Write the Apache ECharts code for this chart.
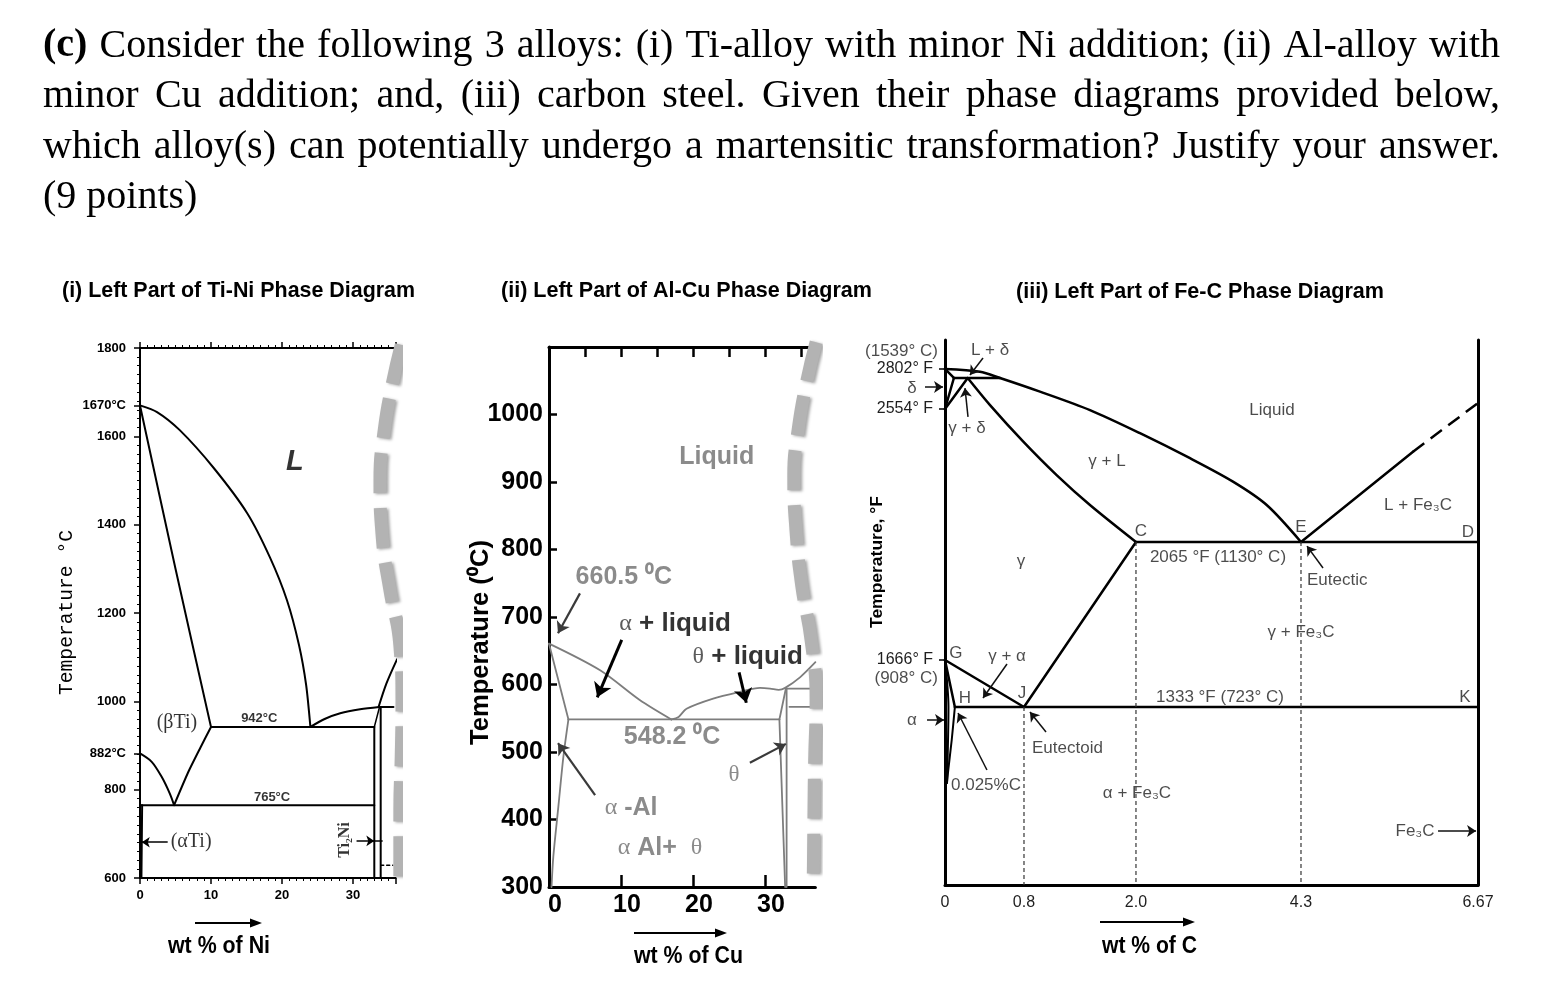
<!DOCTYPE html>
<html>
<head>
<meta charset="utf-8">
<title>Phase diagrams</title>
<script src="https://cdn.jsdelivr.net/npm/echarts@6.0.0/dist/echarts.min.js"></script>
<style>
    html, body { margin: 0; background: #fff; }
    #chart { width: 1547px; height: 995px; }
</style>
</head>
<body>
<div id="chart"></div>
<script>
'use strict';

// ---------- text ----------
const questionLines = [
    '(c) Consider the following 3 alloys: (i) Ti-alloy with minor Ni addition; (ii) Al-alloy with',
    'minor Cu addition; and, (iii) carbon steel. Given their phase diagrams provided below,',
    'which alloy(s) can potentially undergo a martensitic transformation? Justify your answer.',
    '(9 points)'
];
const panelTitles = ['(i) Left Part of Ti-Ni Phase Diagram', '(ii) Left Part of Al-Cu Phase Diagram', '(iii) Left Part of Fe-C Phase Diagram'];
const compositionTitles = ['wt % of Ni', 'wt % of Cu', 'wt % of C'];
const temperatureTitles = ['Temperature °C', 'Temperature (⁰C)', 'Temperature, °F'];

// ---------- (i) Ti-Ni : wt% Ni, °C ----------
const tiNiTempLabels = [600, 800, 882, 1000, 1200, 1400, 1600, 1670, 1800];
const tiNiLiquidus = [[0, 1670], [2.4, 1655], [5.6, 1614], [10.3, 1530], [15.1, 1426], [18.3, 1326], [20.7, 1229], [22.4, 1127], [23.4, 1037], [24, 942]];
const tiNiSolidus = [[0, 1670], [5, 1300], [10, 942]];
const tiNiBetaTransus = [[0, 882], [1.65, 863], [3.05, 829], [4.2, 791], [4.8, 765]];
const tiNiBetaSolvus = [[4.8, 765], [6.8, 840], [8.5, 895], [10, 942]];
const tiNiAlphaSolvus = [[0.3, 765], [0.2, 600]];
const tiNiEutectic = [[10, 942], [33, 942]];
const tiNiEutectoid = [[0, 765], [33, 765]];
const tiNiTi2NiLeft = [[33, 942], [33, 600]];
const tiNiTi2NiRight = [[33.9, 987], [33.9, 600]];
const tiNiPeritecticEdge = [[33, 942], [33.7, 985]];
const tiNiTi2NiLiquidus = [[24, 942], [26, 960], [28.2, 973], [31, 982], [33.7, 987]];
const tiNiPeritectic = [[33.7, 987], [35.7, 987]];
const tiNiRightLiquidus = [[33.6, 987], [34.7, 1040], [36.2, 1095]];
const tiNiLowLine = [[33.9, 629], [35.6, 629]];
const tiNiBreak = [[36.8, 1807], [35.5, 1716], [34.4, 1614], [33.8, 1501], [34.1, 1376], [35.2, 1252], [36.6, 1127], [36.9, 1003], [36.8, 878], [36.6, 754], [36.6, 600]];
const tiNiArrows = [[[3.9, 681], [0.25, 681]], [[30.5, 684], [33.0, 684]]];
const tiNiTick = [[33.0, 684], [34.1, 684]];
const tiNiNotes = [
    [21.8, 1542, 'L', 'big'],
    [5.2, 951, '(βTi)', 'serif'],
    [16.8, 962, '942°C', 'small'],
    [18.6, 783, '765°C', 'small'],
    [7.2, 681, '(αTi)', 'serif'],
    [28.9, 686, 'Ti₂Ni', 'rot']
];

// ---------- (ii) Al-Cu : wt% Cu, °C ----------
const alCuLiquidusAl = [[0, 660.5], [7.1, 621], [12.6, 577], [17, 548.2]];
const alCuLiquidusTheta = [[17, 548.2], [18, 552], [19.1, 564], [22.8, 579], [26.5, 589], [29.3, 595], [30.7, 594], [31.9, 592], [32.8, 595], [34.9, 611], [37, 633]];
const alCuSolidus = [[0, 660.5], [2.7, 548.2]];
const alCuSolvus = [[2.7, 548.2], [2.0, 493], [1.3, 419], [0.6, 345], [0.35, 300]];
const alCuEutectic = [[2.7, 548.2], [32, 548.2]];
const alCuThetaLeft = [[32, 548.2], [32.8, 300]];
const alCuThetaTop = [[32, 548.2], [32.9, 594]];
const alCuThetaRight = [[33.0, 594], [33.0, 300]];
const alCuUpperLine = [[33.0, 594], [37, 594]];
const alCuLowerLine = [[33.4, 567], [37, 567]];
const alCuBreak = [[37.1, 1107], [35.7, 1044], [34.6, 977], [34.0, 910], [34.3, 829], [35.1, 747], [36.4, 666], [37.1, 577], [36.9, 488], [36.8, 407], [36.7, 300]];
const alCuBoldArrows = [[[10.1, 666], [6.7, 581]], [[26.4, 618], [27.4, 573]]];
const alCuGrayArrows = [[[4.3, 735], [1.25, 676]], [[27.9, 484], [32.9, 512]], [[6.4, 436], [1.25, 513]]];
const alCuNotes = [
    [23.3, 937, 'Liquid', 'gray'],
    [10.4, 759, '660.5 ⁰C', 'gray'],
    [17.5, 690, '{s|α} + liquid', 'black'],
    [27.6, 641, '{s|θ} + liquid', 'black'],
    [17.1, 522, '548.2 ⁰C', 'gray'],
    [25.7, 466, 'θ', 'graySerif'],
    [11.4, 417, '{s|α} -Al', 'gray'],
    [15.4, 358, '{s|α} Al+  {s|θ}', 'gray']
];

// ---------- (iii) Fe-C : wt% C, °F ----------
const feCarbonTicks = [0, 0.8, 2.0, 4.3, 6.67];
const feCarbonTickLabels = ['0', '0.8', '2.0', '4.3', '6.67'];
const feTempTicks = [2802, 2554, 1666];
const feLiquidus = [[0, 2802], [0.354, 2777], [0.557, 2720], [0.971, 2647], [1.507, 2550], [2.056, 2465], [2.753, 2373], [3.352, 2287], [3.822, 2201], [4.3, 2065]];
const fePeritectic = [[0.09, 2720], [0.557, 2720]];
const feDeltaSolidus = [[0, 2802], [0.09, 2720]];
const feDeltaSolvus = [[0.09, 2720], [0, 2554]];
const feGammaDelta = [[0, 2554], [0.23, 2720]];
const feGammaSolidus = [[0.23, 2720], [0.456, 2575], [0.793, 2434], [1.15, 2311], [1.507, 2201], [2.0, 2065]];
const feEutectic = [[2.0, 2065], [6.67, 2065]];
const feCementiteLiquidus = [[4.3, 2065], [5.8, 2397]];
const feCementiteDashed = [[5.8, 2397], [6.67, 2586]];
const feAcm = [[2.0, 2065], [0.8, 1333]];
const feA3 = [[0, 1666], [0.8, 1333]];
const feEutectoid = [[0.1, 1333], [6.67, 1333]];
const feAlphaBoundary = [[0, 1666], [0.1, 1333]];
const feAlphaInner = [[0, 1666], [0.035, 1333], [0.02, 764]];
const feAlphaSolvus = [[0.1, 1333], [0.068, 1086], [0.033, 861], [0.02, 764]];
const feGuides = [[[0.8, 1333], [0.8, 0]], [[2.0, 2065], [2.0, 0]], [[4.3, 2065], [4.3, 0]]];
const feArrows = [
    [[-0.2025, 2672], [-0.02, 2672]],
    [[0.385, 2877], [0.253, 2747]],
    [[0.233, 2525], [0.2025, 2666]],
    [[4.595, 1977], [4.38, 2051]],
    [[0.628, 1638], [0.385, 1397]],
    [[-0.182, 1236], [-0.01, 1236]],
    [[1.036, 1146], [0.864, 1296]],
    [[0.425, 861], [0.132, 1288]],
    [[6.135, 404], [6.644, 404]]
];
const feNotes = [
    [-0.071, 2925, '(1539° C)', 'right'],
    [-0.334, 2666, 'δ', 'mid'],
    [0.456, 2932, 'L + δ', 'mid'],
    [0.223, 2484, 'γ + δ', 'mid'],
    [3.896, 2550, 'Liquid', 'mid'],
    [1.689, 2363, 'γ + L', 'mid'],
    [5.867, 2201, 'L + Fe₃C', 'mid'],
    [2.07, 2106, 'C', 'mid'],
    [4.3, 2119, 'E', 'mid'],
    [6.536, 2099, 'D', 'mid'],
    [3.143, 2014, '2065 °F (1130° C)', 'mid'],
    [4.38, 1937, 'Eutectic', 'left'],
    [0.77, 2001, 'γ', 'mid'],
    [4.3, 1761, 'γ + Fe₃C', 'mid'],
    [0.111, 1690, 'G', 'mid'],
    [0.628, 1680, 'γ + α', 'mid'],
    [-0.071, 1538, '(908° C)', 'right'],
    [0.2025, 1397, 'H', 'mid'],
    [0.78, 1432, 'J', 'mid'],
    [3.171, 1404, '1333 °F (723° C)', 'mid'],
    [6.496, 1404, 'K', 'mid'],
    [-0.334, 1236, 'α', 'mid'],
    [0.886, 1026, 'Eutectoid', 'left'],
    [0.061, 749, '0.025%C', 'left'],
    [2.014, 689, 'α + Fe₃C', 'mid'],
    [5.827, 404, 'Fe₃C', 'mid']
];

// the Fe-C sketch is not drawn to scale: piecewise scale stops (fraction of the axis)
const feCarbonStopPos = [0, 0.1482, 0.3583, 0.6679, 1];
const feTempStops = [0, 1333, 1666, 2065, 2554, 2720, 2802, 3000];
const feTempStopPos = [0, 0.3266, 0.4128, 0.6294, 0.8734, 0.9303, 0.9468, 1];

const piecewise = (stops, pos) => v => {
    let i = 0;
    while (i < stops.length - 2 && v > stops[i + 1]) i++;
    return pos[i] + (v - stops[i]) * (pos[i + 1] - pos[i]) / (stops[i + 1] - stops[i]);
};
const wx = piecewise(feCarbonTicks, feCarbonStopPos), wy = piecewise(feTempStops, feTempStopPos);
const fe = p => [wx(p[0]), wy(p[1])];
const nearest = (vals, v) => vals.reduce((b, u, i) => Math.abs(u - v) < Math.abs(vals[b] - v) ? i : b, 0);

// ---------- helpers ----------
const SANS = '"Liberation Sans", Arial, sans-serif', SERIF = '"Liberation Serif", "Times New Roman", serif',
    MONO = '"Liberation Mono", "Courier New", monospace';
const mctx = document.createElement('canvas').getContext('2d');
const textWidth = (t, size, family, weight) => {
    mctx.font = (weight || 'normal') + ' ' + size + 'px ' + family;
    return mctx.measureText(t).width;
};
const fitted = (t, x, y, width, size, family, weight, extra) => Object.assign({
    type: 'text', x, y, silent: true,
    scaleX: width / textWidth(t, size, family, weight),
    style: {text: t, fill: '#000', fontSize: size, fontFamily: family, fontWeight: weight || 'normal', align: 'left', verticalAlign: 'middle'}
}, extra);
const arrowGraphic = (x1, x2, y) => [
    {type: 'line', silent: true, shape: {x1, y1: y, x2: x2 - 6, y2: y}, style: {stroke: '#000', lineWidth: 2}},
    {type: 'polygon', silent: true, shape: {points: [[x2, y], [x2 - 12, y - 4.5], [x2 - 12, y + 4.5]]}, style: {fill: '#000'}}
];

const paragraph = () => {
    const els = [], size = 40, left = 43, right = 1500;
    questionLines.forEach((line, li) => {
        const words = line.split(' ');
        const weights = words.map((w, wi) => li === 0 && wi === 0 ? 'bold' : 'normal');
        const widths = words.map((w, wi) => textWidth(w, size, SERIF, weights[wi]));
        const total = widths.reduce((a, b) => a + b, 0);
        const gap = li < questionLines.length - 1 ? (right - left - total) / (words.length - 1) : textWidth(' ', size, SERIF);
        let x = left;
        words.forEach((w, wi) => {
            els.push({type: 'text', x, y: 46 + li * 50.6, silent: true,
                style: {text: w, fill: '#000', fontSize: size, fontFamily: SERIF, fontWeight: weights[wi], align: 'left', verticalAlign: 'middle'}});
            x += widths[wi] + gap;
        });
    });
    return els;
};

const lineSeries = (data, xi, yi, lineStyle, extra) => Object.assign({
    type: 'line', xAxisIndex: xi, yAxisIndex: yi, data, symbol: 'none', showSymbol: false,
    silent: true, z: 3, lineStyle: Object.assign({cap: 'round', join: 'round'}, lineStyle)
}, extra);
const arrowSeries = (list, xi, yi, color, width, size) => ({
    type: 'lines', coordinateSystem: 'cartesian2d', xAxisIndex: xi, yAxisIndex: yi, silent: true, clip: false, z: 5,
    symbol: ['none', 'arrow'], symbolSize: size, lineStyle: {color, width, opacity: 1, curveness: 0},
    data: list.map(c => ({coords: c}))
});
const noteSeries = (list, xi, yi, styles, map) => ({
    type: 'scatter', xAxisIndex: xi, yAxisIndex: yi, symbolSize: 0, silent: true, clip: false, z: 6,
    label: {show: true, position: 'inside', formatter: p => p.name},
    data: list.map(([x, y, t, k]) => ({name: t, value: map ? map([x, y]) : [x, y], label: styles[k]}))
});
const breakStyle = {color: '#b3b3b3', width: 13, type: [40, 15], cap: 'butt', shadowColor: 'rgba(0,0,0,0.35)', shadowBlur: 3, shadowOffsetX: 2, shadowOffsetY: 1};

const tiNiStyles = {
    big: {color: '#000', fontSize: 29, fontWeight: 'bold', fontStyle: 'italic', fontFamily: SANS},
    serif: {color: '#000', fontSize: 20, fontFamily: SERIF},
    small: {color: '#000', fontSize: 13, fontWeight: 'bold', fontFamily: SANS},
    rot: {color: '#000', fontSize: 16, fontWeight: 'bold', fontFamily: SERIF, rotate: 90}
};
const alRich = {fontFamily: SERIF, fontSize: 24, fontWeight: 'normal'};
const alCuStyles = {
    gray: {color: '#6e6e6e', fontSize: 25, fontWeight: 'bold', fontFamily: SANS, rich: {s: Object.assign({color: '#6e6e6e'}, alRich)}},
    black: {color: '#000', fontSize: 26, fontWeight: 'bold', fontFamily: SANS, rich: {s: Object.assign({color: '#333'}, alRich)}},
    graySerif: {color: '#6e6e6e', fontSize: 23, fontFamily: SERIF}
};
const feStyles = {
    mid: {color: '#1e1e1e', fontSize: 17, fontFamily: SANS},
    left: {color: '#1e1e1e', fontSize: 17, fontFamily: SANS, align: 'left'},
    right: {color: '#1e1e1e', fontSize: 17, fontFamily: SANS, align: 'right'}
};

// ---------- chart ----------
const chart = echarts.init(document.getElementById('chart'), null, {renderer: 'canvas'});
const blk = {color: '#000', width: 2}, gry = {color: '#7d7d7d', width: 1.8}, fes = {color: '#000', width: 2.5};
const feXVals = feCarbonTicks.map(wx), feYVals = feTempTicks.map(wy);

const series = [
    // Ti-Ni
    lineSeries(tiNiLiquidus, 0, 0, blk, {smooth: 0.25}),
    lineSeries(tiNiSolidus, 0, 0, blk, {smooth: 0.3}),
    lineSeries(tiNiBetaTransus, 0, 0, blk, {smooth: 0.3}),
    lineSeries(tiNiBetaSolvus, 0, 0, blk, {smooth: 0.2}),
    lineSeries(tiNiAlphaSolvus, 0, 0, blk),
    lineSeries(tiNiEutectic, 0, 0, blk),
    lineSeries(tiNiEutectoid, 0, 0, blk),
    lineSeries(tiNiTi2NiLeft, 0, 0, blk),
    lineSeries(tiNiTi2NiRight, 0, 0, blk),
    lineSeries(tiNiPeritecticEdge, 0, 0, {color: '#000', width: 1.5}),
    lineSeries(tiNiTi2NiLiquidus, 0, 0, blk, {smooth: 0.3}),
    lineSeries(tiNiPeritectic, 0, 0, blk),
    lineSeries(tiNiRightLiquidus, 0, 0, blk, {smooth: 0.3}),
    lineSeries(tiNiLowLine, 0, 0, {color: '#000', width: 1.5, type: [3, 3]}),
    lineSeries(tiNiTick, 0, 0, {color: '#000', width: 1.5}),
    lineSeries(tiNiBreak, 0, 0, breakStyle, {smooth: 0.5, clip: false, z: 10}),
    arrowSeries(tiNiArrows, 0, 0, '#000', 1.5, 8),
    noteSeries(tiNiNotes, 0, 0, tiNiStyles),
    // Al-Cu
    lineSeries(alCuLiquidusAl, 2, 1, gry, {smooth: 0.3}),
    lineSeries(alCuLiquidusTheta, 2, 1, gry, {smooth: 0.3}),
    lineSeries(alCuSolidus, 2, 1, gry),
    lineSeries(alCuSolvus, 2, 1, gry, {smooth: 0.3}),
    lineSeries(alCuEutectic, 2, 1, gry),
    lineSeries(alCuThetaLeft, 2, 1, gry),
    lineSeries(alCuThetaTop, 2, 1, gry),
    lineSeries(alCuThetaRight, 2, 1, gry),
    lineSeries(alCuUpperLine, 2, 1, gry),
    lineSeries(alCuLowerLine, 2, 1, gry),
    lineSeries(alCuBreak, 2, 1, breakStyle, {smooth: 0.5, clip: false, z: 10}),
    arrowSeries(alCuBoldArrows, 2, 1, '#000', 3, 14),
    arrowSeries(alCuGrayArrows, 2, 1, '#3a3a3a', 2.2, 11),
    noteSeries(alCuNotes, 2, 1, alCuStyles),
    // Fe-C
    ...[feLiquidus, feGammaSolidus].map(d => lineSeries(d.map(fe), 4, 2, fes, {smooth: 0.3})),
    ...[fePeritectic, feDeltaSolidus, feDeltaSolvus, feGammaDelta, feEutectic, feCementiteLiquidus, feAcm, feA3,
        feEutectoid, feAlphaBoundary].map(d => lineSeries(d.map(fe), 4, 2, fes)),
    lineSeries(feAlphaInner.map(fe), 4, 2, {color: '#000', width: 2}, {smooth: 0.3}),
    lineSeries(feAlphaSolvus.map(fe), 4, 2, {color: '#000', width: 2}, {smooth: 0.3}),
    lineSeries(feCementiteDashed.map(fe), 4, 2, {color: '#000', width: 2.5, type: [14, 8], cap: 'butt'}),
    ...feGuides.map(d => lineSeries(d.map(fe), 4, 2, {color: '#333', width: 1.2, type: [4, 3], cap: 'butt'})),
    arrowSeries(feArrows.map(a => a.map(fe)), 4, 2, '#111', 1.5, 9),
    noteSeries(feNotes, 4, 2, feStyles, fe)
];

const graphic = [
    ...paragraph(),
    fitted(panelTitles[0], 62, 291, 353, 22, SANS, 'bold'),
    fitted(panelTitles[1], 501, 291, 371, 22, SANS, 'bold'),
    fitted(panelTitles[2], 1016, 292, 368, 22, SANS, 'bold'),
    fitted(compositionTitles[0], 168, 947, 102, 23, SANS, 'bold'),
    fitted(compositionTitles[1], 634, 957, 109, 23, SANS, 'bold'),
    fitted(compositionTitles[2], 1102, 947, 95, 23, SANS, 'bold'),
    ...arrowGraphic(195, 262, 923),
    ...arrowGraphic(634, 727, 933),
    ...arrowGraphic(1100, 1195, 922),
    fitted(temperatureTitles[0], 67, 695, 165, 20, MONO, 'normal', {rotation: Math.PI / 2}),
    fitted(temperatureTitles[1], 481, 745, 205, 25, SANS, 'bold', {rotation: Math.PI / 2}),
    fitted(temperatureTitles[2], 878, 628, 132, 16, SANS, 'bold', {rotation: Math.PI / 2})
];

const black = w => ({show: true, onZero: false, lineStyle: {color: '#000', width: w}});
const plain = v => String(v);
chart.setOption({
    backgroundColor: '#fff',
    animation: false,
    grid: [
        {left: 140, top: 348, width: 255.6, height: 530},
        {left: 549, top: 347, width: 266.4, height: 540},
        {left: 945, top: 340, width: 533, height: 545}
    ],
    xAxis: [
        {gridIndex: 0, type: 'value', min: 0, max: 36, interval: 10, position: 'bottom', axisLine: black(2),
            axisTick: {length: 6, lineStyle: {color: '#000', width: 1.5}},
            minorTick: {show: true, splitNumber: 10, length: 3, lineStyle: {color: '#000', width: 1}},
            axisLabel: {color: '#000', fontSize: 13, fontWeight: 'bold', fontFamily: SANS, margin: 11, showMaxLabel: false, formatter: plain},
            splitLine: {show: false}},
        {gridIndex: 0, type: 'value', min: 0, max: 36, interval: 10, position: 'top', axisLine: black(2),
            axisTick: {length: 6, lineStyle: {color: '#000', width: 1.5}},
            minorTick: {show: true, splitNumber: 10, length: 3, lineStyle: {color: '#000', width: 1}},
            axisLabel: {show: false}, splitLine: {show: false}},
        {gridIndex: 1, type: 'value', min: 0, max: 37, interval: 10, position: 'bottom', axisLine: black(3),
            axisTick: {inside: true, length: 12, lineStyle: {color: '#000', width: 2.5}},
            axisLabel: {color: '#000', fontSize: 25, fontWeight: 'bold', fontFamily: SANS, margin: 6, padding: [0, 0, 0, 12], showMaxLabel: false, formatter: plain},
            splitLine: {show: false}},
        {gridIndex: 1, type: 'value', min: 0, max: 37, interval: 5, position: 'top', axisLine: black(3),
            axisTick: {inside: true, length: 10, lineStyle: {color: '#000', width: 2.5}},
            axisLabel: {show: false}, splitLine: {show: false}},
        {gridIndex: 2, type: 'value', min: 0, max: 1, position: 'bottom', axisLine: black(3), axisTick: {show: false},
            axisLabel: {customValues: feXVals, formatter: v => feCarbonTickLabels[nearest(feXVals, v)],
                color: '#1e1e1e', fontSize: 16, fontFamily: SANS, margin: 10},
            splitLine: {show: false}}
    ],
    yAxis: [
        {gridIndex: 0, type: 'value', min: 600, max: 1800, interval: 200, axisLine: black(2),
            axisTick: {show: true, length: 6, customValues: tiNiTempLabels, lineStyle: {color: '#000', width: 1.5}},
            minorTick: {show: true, splitNumber: 10, length: 3, lineStyle: {color: '#000', width: 1}},
            axisLabel: {customValues: tiNiTempLabels, formatter: v => (v === 882 || v === 1670) ? v + '°C' : String(v),
                color: '#000', fontSize: 13, fontWeight: 'bold', fontFamily: SANS, margin: 14},
            splitLine: {show: false}},
        {gridIndex: 1, type: 'value', min: 300, max: 1100, interval: 100, axisLine: black(3),
            axisTick: {show: true, inside: true, length: 8, lineStyle: {color: '#000', width: 2.5}},
            axisLabel: {color: '#000', fontSize: 25, fontWeight: 'bold', fontFamily: SANS, margin: 6, showMaxLabel: false, formatter: plain},
            splitLine: {show: false}},
        {gridIndex: 2, type: 'value', min: 0, max: 1, axisLine: black(3),
            axisTick: {show: true, length: 6, customValues: feYVals, lineStyle: {color: '#000', width: 1.5}},
            axisLabel: {customValues: feYVals, formatter: v => feTempTicks[nearest(feYVals, v)] + '° F',
                color: '#1e1e1e', fontSize: 16, fontFamily: SANS, margin: 12},
            splitLine: {show: false}},
        {gridIndex: 2, type: 'value', min: 0, max: 1, position: 'right', axisLine: black(3),
            axisTick: {show: false}, axisLabel: {show: false}, splitLine: {show: false}}
    ],
    series,
    graphic
});
</script>
</body>
</html>
